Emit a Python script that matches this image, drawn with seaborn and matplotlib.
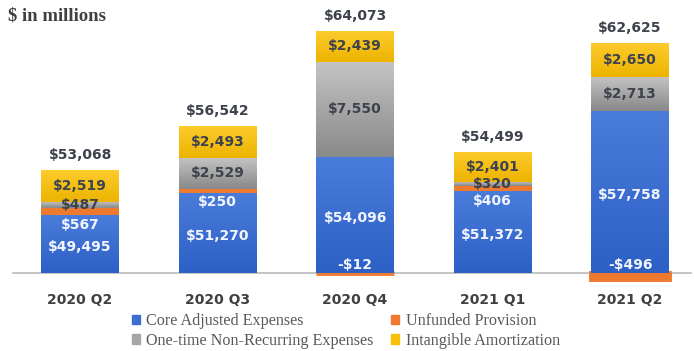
import numpy as np
import matplotlib
matplotlib.use("Agg")
import matplotlib.pyplot as plt
from matplotlib.colors import LinearSegmentedColormap
from matplotlib.patches import Patch
import seaborn as sns

# Quarterly expense breakdown, $ in millions
quarters = ["2020 Q2", "2020 Q3", "2020 Q4", "2021 Q1", "2021 Q2"]
core_adjusted = [49495, 51270, 54096, 51372, 57758]
unfunded_provision = [567, 250, -12, 406, -496]
one_time = [487, 2529, 7550, 320, 2713]
intangible = [2519, 2493, 2439, 2401, 2650]
totals = [53068, 56542, 64073, 54499, 62625]

series_names = ["Core Adjusted Expenses", "Unfunded Provision",
                "One-time Non-Recurring Expenses", "Intangible Amortization"]

# the value axis is truncated: bars start at this floor
AXIS_FLOOR = 44900

BLUE, BLUE_TOP, BLUE_BOT = "#3C6DD1", "#4A7CDB", "#2D60C5"
GRAY, GRAY_TOP, GRAY_BOT = "#A6A6A6", "#C4C4C4", "#898989"
GOLD, GOLD_TOP, GOLD_BOT = "#F7C10A", "#FCCB2C", "#EDB400"
ORANGE = "#EE7A30"
DARK = "#3E424D"

sns.set_style("white")
plt.rcParams["font.family"] = ["DejaVu Sans"]

fig = plt.figure(figsize=(6.94, 3.51), dpi=100)
ax = fig.add_axes([12 / 694, 1 - 290 / 351, 680 / 694, 282 / 351])

core = np.array(core_adjusted, dtype=float)
unf = np.array(unfunded_provision, dtype=float)
one = np.array(one_time, dtype=float)
amort = np.array(intangible, dtype=float)

unf_pos = np.clip(unf, 0, None)
gray_base = core + unf_pos
gold_base = gray_base + one
stack_top = gold_base + amort

BAR_W = 0.567
common = dict(saturation=1, width=BAR_W, errorbar=None, ax=ax, linewidth=0)

# unfunded provision: above the core bar when positive, below the floor when negative
unf_bottom = np.where(unf >= 0, core, AXIS_FLOOR)
sns.barplot(x=quarters, y=unf, bottom=unf_bottom, color=ORANGE, zorder=2, **common)
unf_bars = ax.containers[-1]
for bar, v in zip(unf_bars, unf):
    if v < 0:
        bar.set_edgecolor(ORANGE)
        bar.set_linewidth(3.5)
        bar.set_zorder(1.5)

sns.barplot(x=quarters, y=core - AXIS_FLOOR, bottom=np.full(len(core), AXIS_FLOOR),
            color=BLUE, zorder=3, **common)
core_bars = ax.containers[-1]
sns.barplot(x=quarters, y=one, bottom=gray_base, color=GRAY, zorder=3, **common)
gray_bars = ax.containers[-1]
sns.barplot(x=quarters, y=amort, bottom=gold_base, color=GOLD, zorder=3, **common)
gold_bars = ax.containers[-1]


def shade(container, top, bottom):
    cmap = LinearSegmentedColormap.from_list("shade", [bottom, top])
    grad = np.linspace(0, 1, 64).reshape(-1, 1)
    for bar in container:
        x0, y0 = bar.get_x(), bar.get_y()
        w, h = bar.get_width(), bar.get_height()
        im = ax.imshow(grad, cmap=cmap, aspect="auto", origin="lower",
                       extent=(x0, x0 + w, y0, y0 + h), interpolation="bilinear",
                       zorder=bar.get_zorder() + 0.1)
        im.set_clip_path(bar)


shade(core_bars, BLUE_TOP, BLUE_BOT)
shade(gray_bars, GRAY_TOP, GRAY_BOT)
shade(gold_bars, GOLD_TOP, GOLD_BOT)

ax.axhline(AXIS_FLOOR, color="#BFBFBF", lw=1.3, zorder=1)


def money(v):
    return f"-${abs(v):,.0f}" if v < 0 else f"${v:,.0f}"


lab = dict(ha="center", fontsize=10, fontweight="bold", zorder=10)
for i in range(len(quarters)):
    # core value in the middle of the blue bar
    ax.annotate(money(core[i]), (i, (AXIS_FLOOR + core[i]) / 2), xytext=(0, -2),
                textcoords="offset points", va="center", color="#F2F5FF", **lab)
    # unfunded provision
    if unf[i] >= 0:
        ax.annotate(money(unf[i]), (i, core[i]), xytext=(0, -2),
                    textcoords="offset points", va="top", color="#F2F5FF", **lab)
    else:
        ax.annotate(money(unf[i]), (i, AXIS_FLOOR), xytext=(0, 1),
                    textcoords="offset points", va="bottom", color="#F2F5FF", **lab)
    ax.text(i, gray_base[i] + one[i] / 2, money(one[i]), va="center", color=DARK, **lab)
    ax.text(i, gold_base[i] + amort[i] / 2, money(amort[i]), va="center", color=DARK, **lab)
    ax.annotate(money(totals[i]), (i, stack_top[i]), xytext=(0, 6),
                textcoords="offset points", va="bottom", color=DARK, **lab)

ax.set_xlim(-0.495, 4.45)
ax.set_ylim(43550, 65900)
ax.set_yticks([])
ax.set_xlabel("")
ax.set_ylabel("")
for s in ax.spines.values():
    s.set_visible(False)
ax.tick_params(axis="x", length=0, pad=2.5, labelsize=10, labelcolor="#404040")
for t in ax.get_xticklabels():
    t.set_fontweight("bold")

fig.text(8 / 694, 1 - 16 / 351, "$ in millions", ha="left", va="center",
         fontsize=13.5, fontweight="bold", color="#404040", family="Liberation Serif")

handles = [Patch(color=BLUE), Patch(color=GRAY), Patch(color=ORANGE), Patch(color=GOLD)]
labels = [series_names[0], series_names[2], series_names[1], series_names[3]]
fig.legend(handles, labels, ncol=2, loc="center", bbox_to_anchor=(0.498, 1 - 331 / 351),
           frameon=False, prop={"family": "Liberation Serif", "size": 11.6},
           handlelength=0.5, handleheight=0.5, handletextpad=0.4,
           columnspacing=1.1, labelspacing=0.22, labelcolor="#595959",
           borderaxespad=0, borderpad=0)

fig.savefig("out.png", dpi=100)
